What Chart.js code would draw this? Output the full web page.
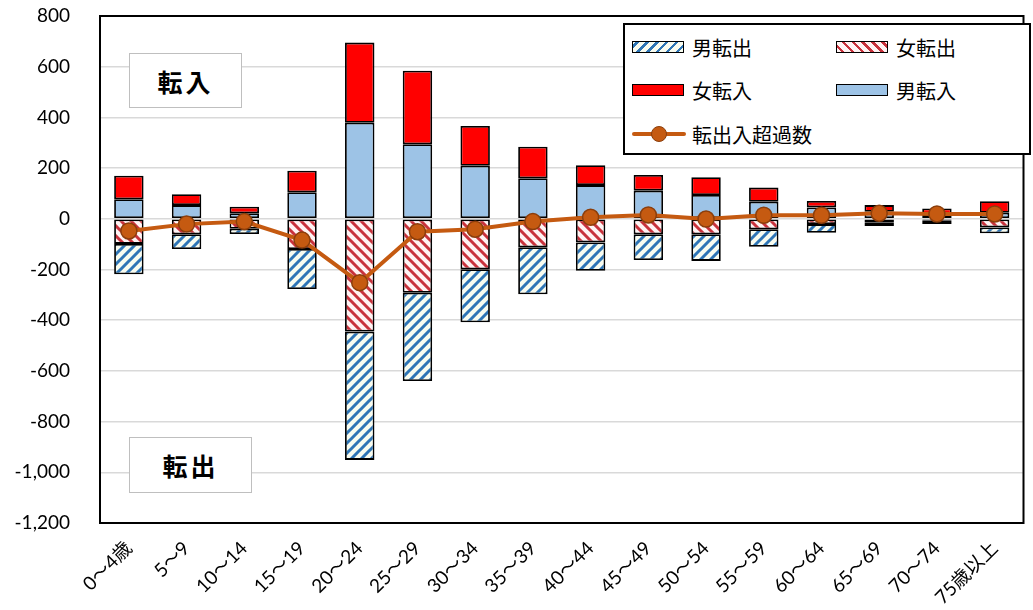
<!DOCTYPE html>
<html>
<head>
<meta charset="utf-8">
<script src="https://cdn.jsdelivr.net/npm/chart.js@4.4.0/dist/chart.umd.min.js"></script>
<style>
  body { margin: 0; background: #fff; }
  #wrap { position: relative; width: 1033px; height: 610px; }
  .note {
    position: absolute; box-sizing: border-box; background: #fff;
    border: 1.5px solid #bfbfbf; display: flex; align-items: center; justify-content: center;
    font-family: "Noto Sans CJK JP", sans-serif; font-weight: bold; font-size: 25px;
    letter-spacing: 3px; color: #000;
  }
  #legendBox {
    position: absolute; left: 623px; top: 23px; width: 408px; height: 132px;
    box-sizing: border-box; border: 2px solid #000; background: #fff;
    font-family: "Noto Sans CJK JP", sans-serif; font-size: 20px; color: #000;
  }
  .item { position: absolute; height: 30px; display: flex; align-items: center; }
  .sw { width: 52px; height: 12px; box-sizing: border-box; border: 1.5px solid #000; margin-right: 8px; }
  .swLine { position: relative; width: 54px; height: 16px; margin-right: 6px; }
  .swLine .l { position: absolute; left: 0; top: 6px; width: 54px; height: 4px; background: #c55a11; border-radius: 2px; }
  .swLine .d { position: absolute; left: 19px; top: 0; width: 14px; height: 14px; border-radius: 50%; background: #c55a11; border: 1px solid #8b3e0c; }
</style>
</head>
<body>
<div id="wrap">
  <canvas id="myChart" width="1033" height="610"></canvas>
  <div class="note" style="left:129px; top:53px; width:113px; height:55px;">転入</div>
  <div class="note" style="left:129px; top:437px; width:123px; height:56px;">転出</div>
  <div id="legendBox">
    <div class="item" style="left:7px; top:7px;"><div class="sw" id="swMaleOut"></div>男転出</div>
    <div class="item" style="left:211px; top:7px;"><div class="sw" id="swFemaleOut"></div>女転出</div>
    <div class="item" style="left:7px; top:50px;"><div class="sw" style="background:#ff0000"></div>女転入</div>
    <div class="item" style="left:211px; top:50px;"><div class="sw" style="background:#9dc3e6"></div>男転入</div>
    <div class="item" style="left:7px; top:94px;"><div class="swLine"><div class="l"></div><div class="d"></div></div>転出入超過数</div>
  </div>
</div>
<script>
// datos
const labels = ['0～4歳', '5～9', '10～14', '15～19', '20～24', '25～29', '30～34', '35～39',
                '40～44', '45～49', '50～54', '55～59', '60～64', '65～69', '70～74', '75歳以上'];

const maleIn    = [77, 54, 22, 105, 379, 294, 209, 160, 133, 111, 94, 67, 45, 28, 15, 24];
const femaleIn  = [93, 43, 26, 85, 316, 290, 157, 124, 78, 62, 70, 56, 25, 26, 26, 45];
const femaleOut = [-99, -61, -39, -119, -445, -292, -199, -112, -93, -61, -61, -41, -21, -14, -8, -34];
const maleOut   = [-120, -58, -21, -158, -506, -348, -209, -186, -112, -102, -105, -69, -34, -14, -13, -23];
const netMove   = [-48, -21, -11, -84, -252, -51, -41, -11, 6, 15, -1, 14, 14, 22, 19, 19];

const yMin = -1200;
const yMax = 800;
const yStep = 200;

const BLUE_STRIPE = '#2e75b6';
const RED_STRIPE = '#c8323c';

function makeHatch(bg, stripe, forward) {
    let size = 10;
    let c = document.createElement('canvas');
    c.width = size;
    c.height = size;
    let ctx = c.getContext('2d');
    ctx.fillStyle = bg;
    ctx.fillRect(0, 0, size, size);
    ctx.strokeStyle = stripe;
    ctx.lineWidth = 3;
    ctx.beginPath();
    if (forward) {
        // "/"
        ctx.moveTo(-5, 5); ctx.lineTo(5, -5);
        ctx.moveTo(0, size); ctx.lineTo(size, 0);
        ctx.moveTo(5, 15); ctx.lineTo(15, 5);
    } else {
        // "\"
        ctx.moveTo(-5, 5); ctx.lineTo(5, 15);
        ctx.moveTo(0, 0); ctx.lineTo(size, size);
        ctx.moveTo(5, -5); ctx.lineTo(15, 5);
    }
    ctx.stroke();
    return c;
}

let mainCtx = document.getElementById('myChart').getContext('2d');
let bluePattern = mainCtx.createPattern(makeHatch('#f8fcf0', BLUE_STRIPE, true), 'repeat');
let redPattern = mainCtx.createPattern(makeHatch('#fff3f3', RED_STRIPE, false), 'repeat');

document.getElementById('swMaleOut').style.background =
    'repeating-linear-gradient(-45deg, #f8fcf0 0 3px, ' + BLUE_STRIPE + ' 3px 5.5px, #f8fcf0 5.5px 7px)';
document.getElementById('swFemaleOut').style.background =
    'repeating-linear-gradient(45deg, #fff3f3 0 3px, ' + RED_STRIPE + ' 3px 5.5px, #fff3f3 5.5px 7px)';

// marco negro alrededor del area del grafico
const framePlugin = {
    id: 'frame',
    afterDraw(chart) {
        let a = chart.chartArea;
        let ctx = chart.ctx;
        ctx.save();
        ctx.strokeStyle = '#000';
        ctx.lineWidth = 2;
        ctx.strokeRect(a.left, a.top, a.right - a.left, a.bottom - a.top);
        ctx.restore();
    }
};

function barSet(label, data, color) {
    return {
        type: 'bar',
        label: label,
        data: data,
        backgroundColor: color,
        borderColor: '#000',
        borderWidth: 1.8,
        borderSkipped: false,
        stack: 's',
        order: 1,
        barPercentage: 0.51,
        categoryPercentage: 1
    };
}

let myChart = new Chart(mainCtx, {
    data: {
        labels: labels,
        datasets: [
            barSet('男転入', maleIn, '#9dc3e6'),
            barSet('女転入', femaleIn, '#ff0000'),
            barSet('女転出', femaleOut, redPattern),
            barSet('男転出', maleOut, bluePattern),
            {
                type: 'line',
                label: '転出入超過数',
                data: netMove,
                borderColor: '#c55a11',
                borderWidth: 4,
                pointRadius: 8,
                pointBackgroundColor: '#c55a11',
                pointBorderColor: '#8b3e0c',
                pointBorderWidth: 1.5,
                tension: 0,
                order: 0
            }
        ]
    },
    options: {
        responsive: false,
        animation: false,
        layout: { padding: { top: 16, right: 2, left: 0, bottom: 0 } },
        plugins: {
            legend: { display: false },
            tooltip: { enabled: false }
        },
        scales: {
            x: {
                stacked: true,
                grid: { display: false, drawTicks: false },
                border: { color: '#000', width: 2 },
                ticks: {
                    autoSkip: false,
                    maxRotation: 45,
                    minRotation: 45,
                    padding: 14,
                    color: '#000',
                    font: { family: 'Lato, "Noto Sans CJK JP"', size: 19 }
                },
                afterFit(scale) {
                    scale.height = 87;
                    scale.paddingLeft = 0;
                    scale.paddingRight = 0;
                }
            },
            y: {
                stacked: true,
                min: yMin,
                max: yMax,
                grid: { color: '#d9d9d9', lineWidth: 1.5, drawTicks: false },
                border: { color: '#000', width: 2 },
                ticks: {
                    stepSize: yStep,
                    padding: 30,
                    color: '#000',
                    font: { family: 'Lato, "Noto Sans CJK JP"', size: 19 },
                    callback: function (v) { return v.toLocaleString('en-US'); }
                },
                afterFit(scale) {
                    scale.width = 100;
                    scale.paddingTop = 0;
                    scale.paddingBottom = 0;
                }
            }
        }
    },
    plugins: [framePlugin]
});
</script>
</body>
</html>
